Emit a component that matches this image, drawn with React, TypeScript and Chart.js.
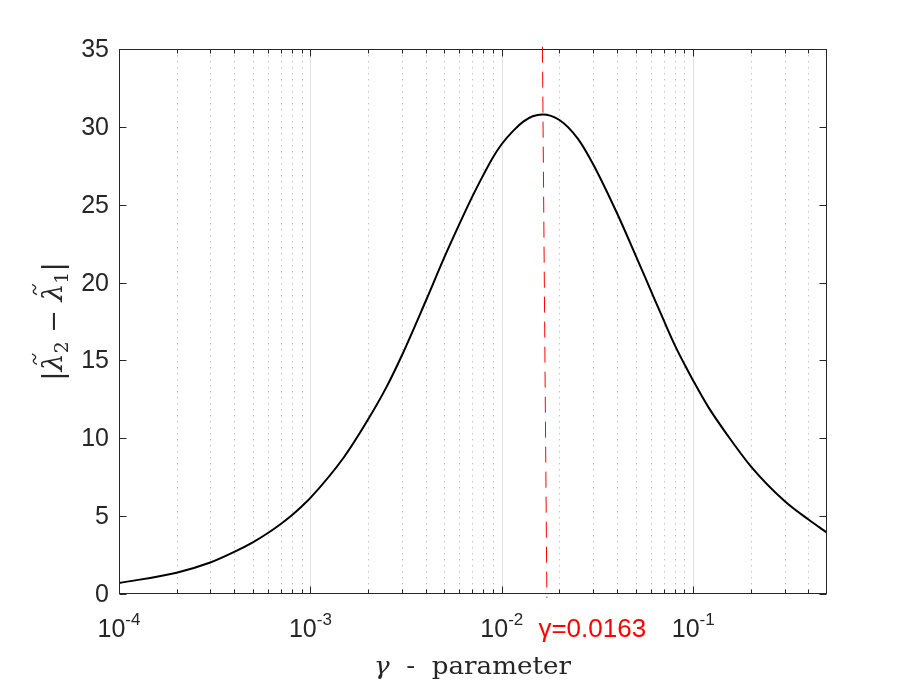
import { useEffect, useRef } from "react";
import { Chart, registerables } from "chart.js";
import type { Plugin } from "chart.js";

Chart.register(...registerables);

// gamma samples and the eigenvalue gap
const gammaValues = [
  1e-4, 2e-4, 3e-4, 4e-4, 5e-4, 6e-4, 7e-4, 8e-4, 9e-4, 1e-3, 1.5e-3, 2e-3,
  2.5e-3, 3e-3, 4e-3, 5e-3, 6e-3, 7e-3, 8e-3, 9e-3, 1e-2, 1.15e-2, 1.3e-2,
  1.45e-2, 1.63e-2, 2e-2, 2.5e-2, 3e-2, 4e-2, 5e-2, 6e-2, 7e-2, 8e-2, 9e-2,
  0.1, 0.12, 0.15, 0.2, 0.3, 0.4, 0.5,
];
const eigenGap = [
  0.7, 1.37, 2.02, 2.7, 3.32, 3.92, 4.5, 5.06, 5.62, 6.17, 8.8, 11.2, 13.3,
  15.3, 18.8, 21.6, 23.75, 25.5, 26.9, 28.05, 28.9, 29.76, 30.35, 30.68, 30.8,
  30.44, 29.23, 27.6, 24.45, 21.75, 19.5, 17.6, 16.0, 14.75, 13.7, 12.0, 10.25,
  8.2, 5.97, 4.78, 3.94,
];

// the red marker line at the optimum
const markerX = [0.0163, 0.0172];
const markerY = [35.15, -0.25];
const markerLabel = "γ=0.0163";

const yTicks = [0, 5, 10, 15, 20, 25, 30, 35];
const xDecades = [-4, -3, -2, -1];
const minorSteps = [2, 3, 4, 5, 6, 7, 8, 9];
const xMin = 1e-4;
const xMax = 0.5;

const axisColor = "#262626";
const sans = '"Liberation Sans", Arial, sans-serif';
const serif = '"DejaVu Serif", "Liberation Serif", serif';

type Piece = { t: string; f: string; dy: number; tilde?: boolean };

// draws a run of text pieces from x, squeezed/stretched to a given width
function drawRun(
  ctx: CanvasRenderingContext2D,
  parts: Piece[],
  x: number,
  y: number,
  width: number
) {
  let total = 0;
  for (const p of parts) {
    ctx.font = p.f;
    total += ctx.measureText(p.t).width;
  }
  ctx.save();
  ctx.translate(x, y);
  ctx.scale(width / total, 1);
  let cx = 0;
  for (const p of parts) {
    ctx.font = p.f;
    const w = ctx.measureText(p.t).width;
    ctx.fillText(p.t, cx, p.dy);
    if (p.tilde) {
      const mx = cx + w / 2 + 3;
      ctx.beginPath();
      ctx.moveTo(mx - 5, -25);
      ctx.bezierCurveTo(mx - 3, -30, mx - 1, -29, mx, -27.5);
      ctx.bezierCurveTo(mx + 1, -26, mx + 3, -25, mx + 5, -30);
      ctx.lineWidth = 1.3;
      ctx.stroke();
    }
    cx += w;
  }
  ctx.restore();
}

const matlabAxes: Plugin<"line"> = {
  id: "matlabAxes",
  beforeDatasetsDraw(chart) {
    const { ctx, chartArea: a } = chart;
    const xs = chart.scales.x;
    ctx.save();
    ctx.lineWidth = 1;
    // minor dotted grid
    ctx.strokeStyle = "#c4c4c4";
    ctx.setLineDash([1.5, 4.5]);
    for (const d of xDecades) {
      for (const m of minorSteps) {
        const v = m * Math.pow(10, d);
        if (v >= xMax) continue;
        const px = Math.round(xs.getPixelForValue(v)) + 0.5;
        ctx.beginPath();
        ctx.moveTo(px, a.top);
        ctx.lineTo(px, a.bottom);
        ctx.stroke();
      }
    }
    // major solid grid
    ctx.setLineDash([]);
    ctx.strokeStyle = "#e2e2e2";
    for (const d of xDecades) {
      const v = Math.pow(10, d);
      if (v <= xMin) continue;
      const px = Math.round(xs.getPixelForValue(v)) + 0.5;
      ctx.beginPath();
      ctx.moveTo(px, a.top);
      ctx.lineTo(px, a.bottom);
      ctx.stroke();
    }
    ctx.restore();
  },
  afterDraw(chart) {
    const { ctx, chartArea: a } = chart;
    const xs = chart.scales.x;
    const ys = chart.scales.y;
    ctx.save();
    ctx.strokeStyle = axisColor;
    ctx.lineWidth = 1;
    const L = Math.round(a.left) + 0.5;
    const R = Math.round(a.right) - 0.5;
    const T = Math.round(a.top) + 0.5;
    const B = Math.round(a.bottom) - 0.5;
    ctx.strokeRect(L, T, R - L, B - T);

    // y ticks + labels
    ctx.fillStyle = axisColor;
    ctx.font = `25px ${sans}`;
    ctx.textAlign = "right";
    ctx.textBaseline = "middle";
    for (const v of yTicks) {
      const py = Math.round(ys.getPixelForValue(v)) + 0.5;
      ctx.beginPath();
      ctx.moveTo(L, py);
      ctx.lineTo(L + 7, py);
      ctx.moveTo(R, py);
      ctx.lineTo(R - 7, py);
      ctx.stroke();
      ctx.fillText(String(v), 109, py + 1);
    }

    // x ticks
    for (const d of xDecades) {
      const px = Math.round(xs.getPixelForValue(Math.pow(10, d))) + 0.5;
      ctx.beginPath();
      ctx.moveTo(px, B);
      ctx.lineTo(px, B - 7);
      ctx.moveTo(px, T);
      ctx.lineTo(px, T + 7);
      ctx.stroke();
      for (const m of minorSteps) {
        const v = m * Math.pow(10, d);
        if (v >= xMax) continue;
        const mx = Math.round(xs.getPixelForValue(v)) + 0.5;
        ctx.beginPath();
        ctx.moveTo(mx, B);
        ctx.lineTo(mx, B - 4);
        ctx.moveTo(mx, T);
        ctx.lineTo(mx, T + 4);
        ctx.stroke();
      }
    }

    // x tick labels 10^d
    ctx.textBaseline = "alphabetic";
    ctx.textAlign = "left";
    for (const d of xDecades) {
      const px = xs.getPixelForValue(Math.pow(10, d));
      ctx.font = `25px ${sans}`;
      const wb = ctx.measureText("10").width;
      ctx.font = `17px ${sans}`;
      const exp = String(d);
      const we = ctx.measureText(exp).width;
      const x0 = px - (wb + we) / 2;
      ctx.font = `25px ${sans}`;
      ctx.fillText("10", x0, 637);
      ctx.font = `17px ${sans}`;
      ctx.fillText(exp, x0 + wb, 625);
    }

    // marker label
    ctx.fillStyle = "#ff0000";
    ctx.font = `26px ${sans}`;
    ctx.fillText(markerLabel, xs.getPixelForValue(markerX[0]) - 4, 637);

    // x axis title
    ctx.fillStyle = axisColor;
    ctx.strokeStyle = axisColor;
    drawRun(
      ctx,
      [
        { t: "γ", f: `italic 24px ${serif}`, dy: 0 },
        { t: "  -  parameter", f: `24px ${serif}`, dy: 0 },
      ],
      374,
      674,
      197
    );

    // y axis title |λ̃2 − λ̃1|
    ctx.save();
    ctx.translate(62, 381);
    ctx.rotate(-Math.PI / 2);
    drawRun(
      ctx,
      [
        { t: "|", f: `28px ${serif}`, dy: 0 },
        { t: "λ", f: `italic 27px ${serif}`, dy: 0, tilde: true },
        { t: "2", f: `18px ${serif}`, dy: 6 },
        { t: " − ", f: `26px ${serif}`, dy: 0 },
        { t: "λ", f: `italic 27px ${serif}`, dy: 0, tilde: true },
        { t: "1", f: `18px ${serif}`, dy: 6 },
        { t: "|", f: `28px ${serif}`, dy: 0 },
      ],
      0,
      0,
      119
    );
    ctx.restore();
    ctx.restore();
  },
};

export default function App() {
  const canvasRef = useRef<HTMLCanvasElement | null>(null);

  useEffect(() => {
    if (!canvasRef.current) return;
    const chart = new Chart(canvasRef.current, {
      type: "line",
      data: {
        datasets: [
          {
            data: gammaValues.map((g, i) => ({ x: g, y: eigenGap[i] })),
            borderColor: "#000000",
            borderWidth: 2,
            pointRadius: 0,
            cubicInterpolationMode: "monotone",
          },
          {
            data: markerX.map((g, i) => ({ x: g, y: markerY[i] })),
            borderColor: "#ff0000",
            borderWidth: 1,
            borderDash: [16, 9],
            pointRadius: 0,
            clip: false,
          },
        ],
      },
      options: {
        responsive: true,
        maintainAspectRatio: false,
        animation: false,
        layout: { padding: { left: 119, right: 86, top: 49, bottom: 91 } },
        plugins: { legend: { display: false }, tooltip: { enabled: false } },
        scales: {
          x: { type: "logarithmic", min: xMin, max: xMax, display: false },
          y: { type: "linear", min: 0, max: 35, display: false },
        },
      },
      plugins: [matlabAxes],
    });
    return () => {
      chart.destroy();
    };
  }, []);

  return (
    <div
      style={{
        position: "absolute",
        left: 0,
        top: 0,
        width: 913,
        height: 685,
        background: "#ffffff",
      }}
    >
      <canvas ref={canvasRef} />
    </div>
  );
}
